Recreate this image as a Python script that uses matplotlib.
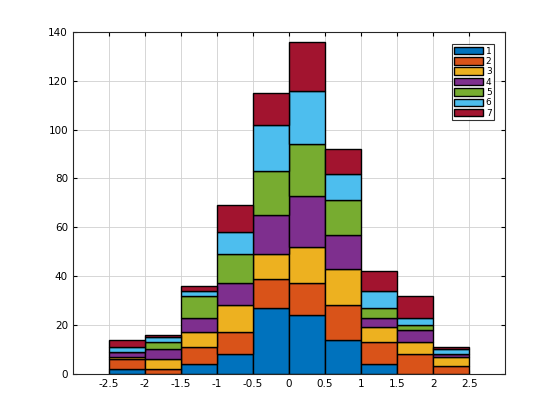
import matplotlib
matplotlib.use("Agg")
import matplotlib.pyplot as plt
import numpy as np

edges = [-2.5, -2, -1.5, -1, -0.5, 0, 0.5, 1, 1.5, 2, 2.5]
labels = ["1", "2", "3", "4", "5", "6", "7"]
s1 = [2, 0, 4, 8, 27, 24, 14, 4, 0, 0]
s2 = [4, 2, 7, 9, 12, 13, 14, 9, 8, 3]
s3 = [1, 4, 6, 11, 10, 15, 15, 6, 5, 4]
s4 = [2, 4, 6, 9, 16, 21, 14, 4, 5, 1]
s5 = [0, 3, 9, 12, 18, 21, 14, 4, 2, 0]
s6 = [2, 2, 2, 9, 19, 22, 11, 7, 3, 2]
s7 = [3, 1, 2, 11, 13, 20, 10, 8, 9, 1]
series = [s1, s2, s3, s4, s5, s6, s7]
colors = ["#0072BD", "#D95319", "#EDB120", "#7E2F8E", "#77AC30", "#4DBEEE", "#A2142F"]

fig = plt.figure(figsize=(5.6, 4.2), dpi=100)
ax = fig.add_axes([0.130, 0.110, 0.772, 0.814])
left = np.array(edges[:-1])
w = np.diff(edges)
bottom = np.zeros(len(left))
for s, c, l in zip(series, colors, labels):
    ax.bar(left, s, width=w, bottom=bottom, align="edge", color=c,
           edgecolor="black", linewidth=1.0, label=l, zorder=2)
    bottom += np.array(s)

ax.set_xlim(-3, 3)
ax.set_ylim(0, 140)
ax.set_xticks(np.arange(-2.5, 2.51, 0.5))
ax.set_xticklabels(["-2.5", "-2", "-1.5", "-1", "-0.5", "0", "0.5", "1", "1.5", "2", "2.5"])
ax.set_yticks(np.arange(0, 141, 20))
ax.grid(True, color="#d0d0d0", linewidth=0.6, zorder=0)
ax.set_axisbelow(True)
ax.tick_params(labelsize=7.5, direction="in", length=3, top=True, right=True, labeltop=False, labelright=False)
for sp in ax.spines.values():
    sp.set_linewidth(0.8)
    sp.set_color("#262626")
leg = ax.legend(loc="upper right", bbox_to_anchor=(0.975, 0.965), fontsize=6.5,
                fancybox=False, edgecolor="black", handlelength=3.2, handleheight=0.9,
                labelspacing=0.15, borderpad=0.3, handletextpad=0.3, borderaxespad=0)
leg.get_frame().set_linewidth(0.8)
fig.savefig("out.png", dpi=100)
